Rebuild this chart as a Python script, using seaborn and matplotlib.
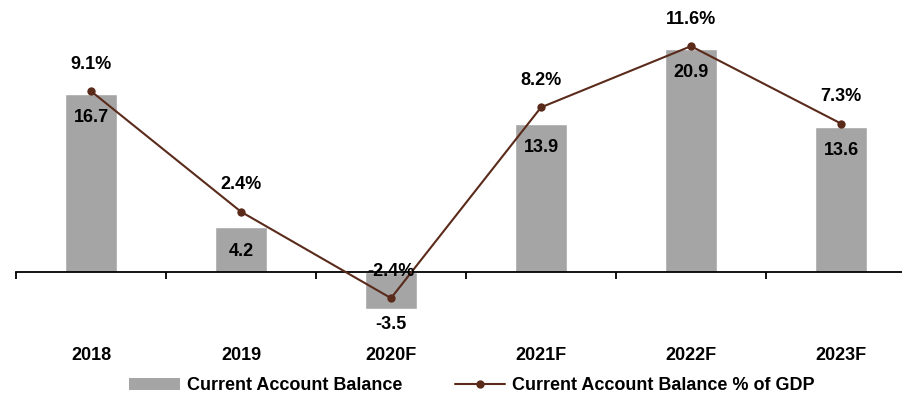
import numpy as np
import pandas as pd
import matplotlib
matplotlib.use("Agg")
import matplotlib.pyplot as plt
from matplotlib.patches import Patch
from matplotlib.lines import Line2D
import seaborn as sns

years = ["2018", "2019", "2020F", "2021F", "2022F", "2023F"]
balance = [16.7, 4.2, -3.5, 13.9, 20.9, 13.6]
pct_gdp = [9.1, 2.4, -2.4, 8.2, 11.6, 7.3]

BAR_COLOR = "#A5A5A5"
LINE_COLOR = "#5A2A1A"
FONT = "Liberation Sans"
FS = 13

sns.set_style("white")
plt.rcParams["font.family"] = [FONT, "DejaVu Sans"]
plt.rcParams["text.color"] = "#000000"
plt.rcParams["xtick.color"] = "#000000"
plt.rcParams["xtick.labelcolor"] = "#000000"

df = pd.DataFrame({"year": years, "balance": balance, "pct": pct_gdp})
df["pos"] = np.arange(len(df))

fig = plt.figure(figsize=(9.03, 3.93), dpi=100)
ax = fig.add_axes([16 / 903, 63 / 393, 887 / 903, 320 / 393])

sns.barplot(data=df, x="year", y="balance", color=BAR_COLOR, width=0.35,
            saturation=1, ax=ax, zorder=2)

ax2 = ax.twinx()
sns.lineplot(data=df, x="pos", y="pct", color=LINE_COLOR, linewidth=1.5,
             marker="o", markersize=6, markeredgewidth=0, ax=ax2, zorder=3)

ax.set_ylim(-5.43, 24.53)
ax2.set_ylim(-4.17, 13.61)

# category axis sits on the zero line, with tick marks between categories
for s in ["top", "right", "left"]:
    ax.spines[s].set_visible(False)
    ax2.spines[s].set_visible(False)
ax2.spines["bottom"].set_visible(False)
ax.spines["bottom"].set_position(("data", 0))
ax.spines["bottom"].set_color("#000000")
ax.spines["bottom"].set_linewidth(1.3)
ax.set_yticks([])
ax2.set_yticks([])
ax.set_xlabel("")
ax.set_ylabel("")
ax2.set_xlabel("")
ax2.set_ylabel("")
ax.set_xticks(df["pos"])
ax.set_xticklabels(years, fontsize=FS, fontweight="bold", color="#000000")
ax.tick_params(axis="x", which="major", bottom=True, length=0, pad=54)
ax.set_xticks(np.arange(-0.5, len(years)), minor=True)
ax.tick_params(axis="x", which="minor", bottom=True, length=5, width=1.3,
               color="#000000", direction="out")

# value labels
for p, v in zip(df["pos"], balance):
    off = -24 if v >= 0 else -15
    ax.annotate(f"{v:.1f}", (p, v), xytext=(0, off), textcoords="offset pixels",
                ha="center", va="center", fontsize=FS, fontweight="bold",
                color="#000000")
for p, v in zip(df["pos"], pct_gdp):
    ax2.annotate(f"{v:.1f}%", (p, v), xytext=(0, 27), textcoords="offset pixels",
                 ha="center", va="center", fontsize=FS, fontweight="bold",
                 color="#000000", zorder=5)

handles = [
    Patch(facecolor=BAR_COLOR, edgecolor="none"),
    Line2D([0], [0], color=LINE_COLOR, linewidth=1.5, marker="o", markersize=6,
           markeredgewidth=0),
]
fig.legend(handles, ["Current Account Balance", "Current Account Balance % of GDP"],
           loc="center", bbox_to_anchor=(472 / 903, 1 - 386 / 393), ncol=2,
           frameon=False, prop={"family": FONT, "weight": "bold", "size": FS},
           handlelength=2.8, handleheight=0.6, handletextpad=0.4, columnspacing=2.9)

# each category is 150 px wide; the last one runs past the right edge
x_right = -0.5 + 887 / 150
for a in (ax, ax2):
    a.set_autoscalex_on(False)
    a.set_xlim(-0.5, x_right)

fig.savefig("out.png", dpi=100)
